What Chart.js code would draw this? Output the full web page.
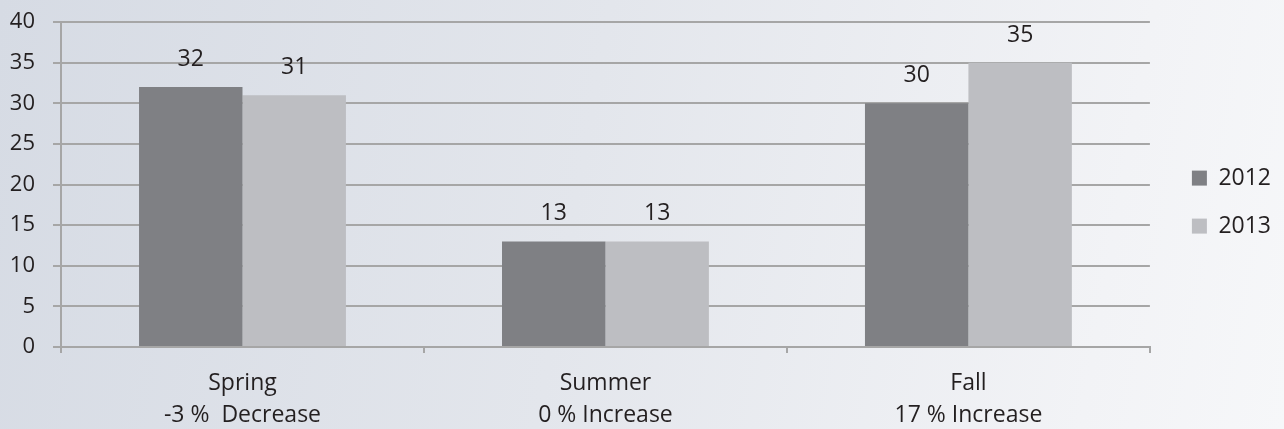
<!DOCTYPE html>
<html>
<head>
<meta charset="utf-8">
<script src="https://cdn.jsdelivr.net/npm/chart.js@4/dist/chart.umd.min.js"></script>
<style>
html,body{margin:0;padding:0;}
body{width:1284px;height:429px;overflow:hidden;background:linear-gradient(100deg,#d6dbe4 0%,#e3e6ec 45%,#f2f3f6 85%,#f6f7f9 100%);}
#wrap{position:relative;width:1284px;height:429px;}
</style>
</head>
<body>
<div id="wrap"><canvas id="c" width="1284" height="429"></canvas></div>
<script>
const categories = [["Spring","-3 %  Decrease"],["Summer","0 % Increase"],["Fall","17 % Increase"]];
const seriesNames = ["2012","2013"];
const values2012 = [32,13,30];
const values2013 = [31,13,35];
const yTicks = [0,5,10,15,20,25,30,35,40];

const FONT = "'Open Sans', 'DejaVu Sans', sans-serif";
const TEXT = "#231f20";
const GRID = "#a6a6a6";

const valueLabels = {
  id: 'valueLabels',
  afterDatasetsDraw(chart) {
    const ctx = chart.ctx;
    ctx.save();
    ctx.font = "23px " + FONT;
    ctx.fillStyle = TEXT;
    ctx.textAlign = 'center';
    ctx.textBaseline = 'middle';
    chart.data.datasets.forEach((ds, i) => {
      const meta = chart.getDatasetMeta(i);
      meta.data.forEach((bar, j) => {
        ctx.fillText(String(ds.data[j]), bar.x, bar.y - 27.5);
      });
    });
    ctx.restore();
  }
};

new Chart(document.getElementById('c'), {
  type: 'bar',
  data: {
    labels: categories,
    datasets: [
      {label: seriesNames[0], data: values2012, backgroundColor: '#7f8084', borderWidth: 0},
      {label: seriesNames[1], data: values2013, backgroundColor: '#bdbec2', borderWidth: 0}
    ]
  },
  options: {
    responsive: false,
    animation: false,
    layout: {padding: {top: 0, right: 3, left: 0, bottom: 0}},
    datasets: {bar: {categoryPercentage: 0.57, barPercentage: 1.0}},
    plugins: {
      legend: {
        position: 'right',
        fullSize: false,
        title: {display: true, text: '', font: {size: 1}, padding: {top: 17, bottom: 17}},
        labels: {
          boxWidth: 15, boxHeight: 15, padding: 25,
          color: TEXT,
          font: {family: FONT, size: 23}
        }
      },
      tooltip: {enabled: false}
    },
    scales: {
      x: {
        grid: {display: true, drawOnChartArea: false, drawTicks: true, tickLength: 6, color: GRID, lineWidth: 2, offset: true},
        border: {display: true, color: GRID, width: 2},
        ticks: {color: TEXT, font: {family: FONT, size: 23, lineHeight: 1.4}, padding: 14, maxRotation: 0, autoSkip: false},
        afterFit: (s) => { s.height = 82; }
      },
      y: {
        min: 0, max: 40,
        afterBuildTicks: (s) => { s.ticks = yTicks.map(v => ({value: v})); },
        grid: {color: GRID, lineWidth: 2, tickLength: 8},
        border: {display: true, color: GRID, width: 2},
        ticks: {color: TEXT, font: {family: FONT, size: 22}, padding: 18},
        afterFit: (s) => { s.width = 61; s.paddingTop = 22; s.paddingBottom = 0; }
      },
      gap: {
        position: 'right',
        display: true,
        grid: {display: false},
        border: {display: false},
        ticks: {display: false},
        afterFit: (s) => { s.width = 17; }
      }
    }
  },
  plugins: [valueLabels]
});
</script>
</body>
</html>
